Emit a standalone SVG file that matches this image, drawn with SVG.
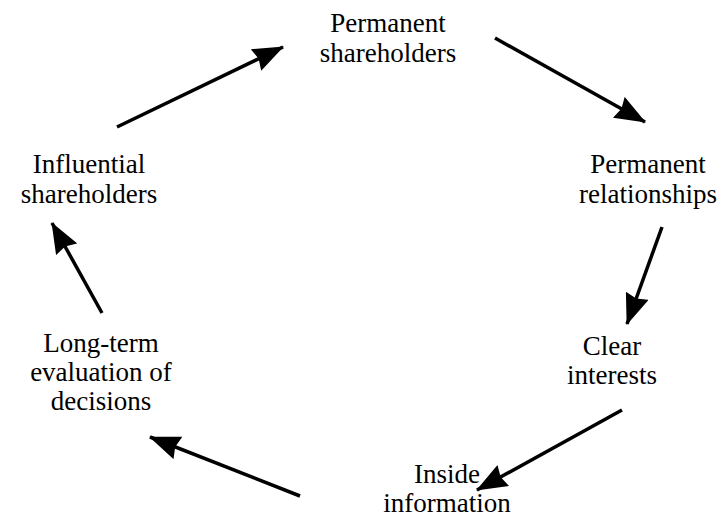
<svg xmlns="http://www.w3.org/2000/svg" width="720" height="520" viewBox="0 0 720 520">
<style>
text{font-family:'Liberation Serif','Times New Roman',serif;font-size:27px;fill:#000;text-anchor:middle}
.c line{stroke:#000;stroke-width:3.5;marker-end:url(#ah)}
</style>
<defs>
<marker id="ah" markerUnits="userSpaceOnUse" markerWidth="32" markerHeight="24" refX="30" refY="12" orient="auto" viewBox="0 0 32 24">
<path d="M0,0 L31,12 L0,24 L3,12 Z" fill="#000"/>
</marker>
</defs>
<rect width="720" height="520" fill="#fff"/>
<g id="n1"><text x="388" y="32">Permanent</text><text x="388" y="62">shareholders</text></g>
<g id="n2"><text x="648" y="173">Permanent</text><text x="648" y="203">relationships</text></g>
<g id="n3"><text x="612" y="355">Clear</text><text x="612" y="384">interests</text></g>
<g id="n4"><text x="447" y="483">Inside</text><text x="447" y="512">information</text></g>
<g id="n5"><text x="101" y="352">Long-term</text><text x="101" y="381">evaluation of</text><text x="101" y="410">decisions</text></g>
<g id="n6"><text x="89" y="173">Influential</text><text x="89" y="203">shareholders</text></g>
<g class="c" id="connectors">
<line x1="117" y1="127" x2="283" y2="47"/>
<line x1="495" y1="38" x2="645" y2="122"/>
<line x1="662" y1="227" x2="627" y2="324"/>
<line x1="622" y1="410" x2="477" y2="490"/>
<line x1="300" y1="496" x2="150" y2="437"/>
<line x1="102" y1="313" x2="52" y2="223"/>
</g>
</svg>
